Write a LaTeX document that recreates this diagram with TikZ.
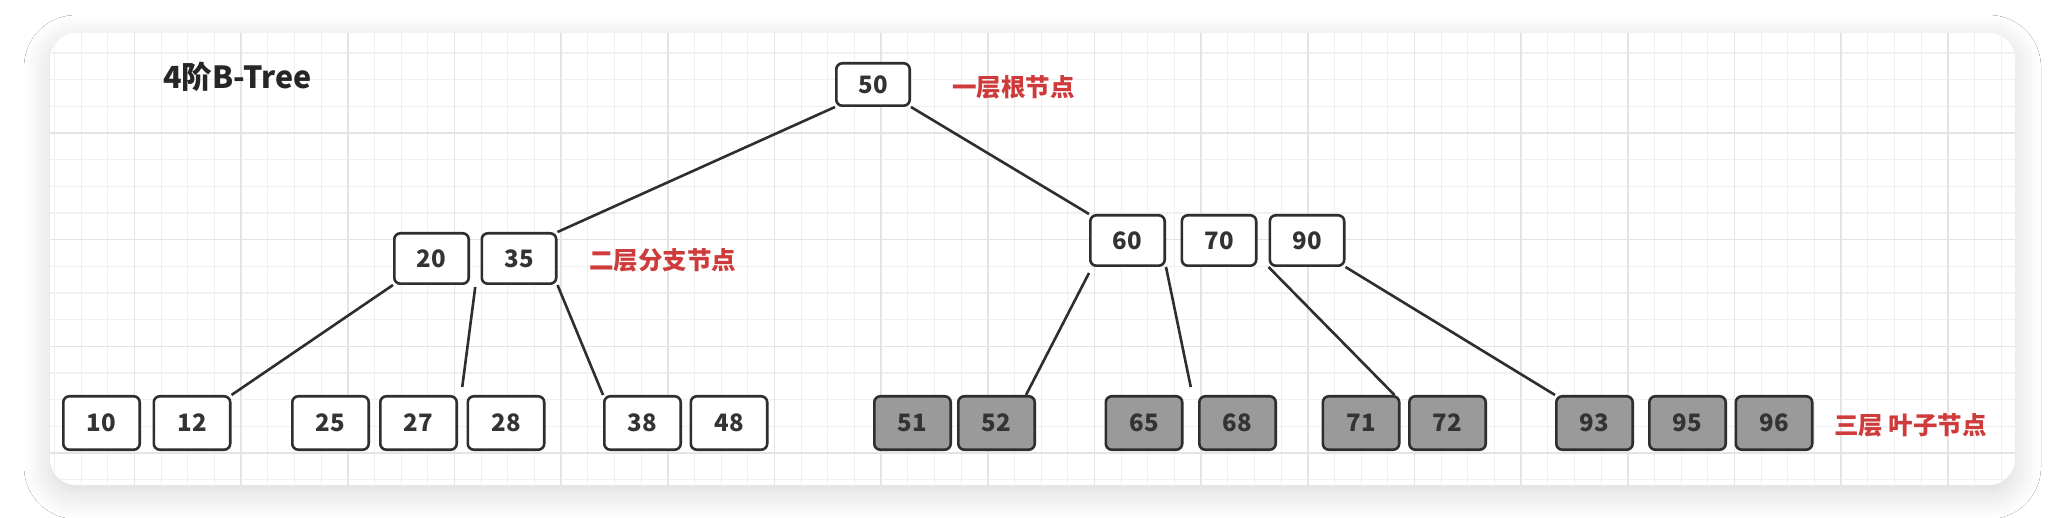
\documentclass[tikz,border=0pt]{standalone}
\usepackage{fontspec}
\setmainfont{Noto Sans CJK SC}
\usetikzlibrary{calc,shadows.blur}
\definecolor{labred}{HTML}{CF3B3B}
\definecolor{leafgray}{HTML}{9A9A9A}
\definecolor{edgec}{HTML}{2E2E2E}
\definecolor{numc}{HTML}{333333}
\definecolor{gridminor}{HTML}{F0F0F0}
\definecolor{gridmajor}{HTML}{E4E4E4}
\tikzset{
  keybox/.style={draw=edgec, line width=2.6pt, rounded corners=6pt, fill=white,
    minimum width=74.4pt, minimum height=50.4pt, inner sep=0pt,
    font=\bfseries\fontsize{24}{24}\selectfont, text=numc},
  rootbox/.style={keybox, minimum width=73.4pt, minimum height=42.4pt},
  leafbox/.style={keybox, minimum width=76.4pt, minimum height=53.4pt},
  graybox/.style={leafbox, fill=leafgray},
  link/.style={draw=edgec, line width=2.6pt},
  note/.style={anchor=west, text=labred, inner sep=0pt,
    font=\bfseries\fontsize{24.5}{24.5}\selectfont},
  gminor/.style={draw=gridminor, line width=1.2pt},
  gmajor/.style={draw=gridmajor, line width=1.4pt},
}
\begin{document}
\begin{tikzpicture}[x=1pt,y=-1pt]
\useasboundingbox (0,0) rectangle (2048,518);
\fill[white] (0,0) rectangle (2048,518);
% card
\fill[white, rounded corners=26pt,
  blur shadow={shadow xshift=0pt, shadow yshift=-8pt, shadow blur radius=26pt, shadow blur steps=16, shadow opacity=16}]
  (50,33) rectangle (2015,485);
\begin{scope}
  \clip[rounded corners=26pt] (50,33) rectangle (2015,485);
  \foreach \i in {0,...,73} {\draw[gminor] ({54.5+26.667*\i},33) -- ++(0,452);}
  \foreach \j in {0,...,16} {\draw[gminor] (50,{53+26.667*\j}) -- ++(1965,0);}
  \foreach \i in {0,...,17} {\draw[gmajor] ({134.5+106.667*\i},33) -- ++(0,452);}
  \foreach \j in {0,...,3} {\draw[gmajor] (50,{133+106.667*\j}) -- ++(1965,0);}
\end{scope}

% title
\node[anchor=west, inner sep=0pt, text=black!85, font=\bfseries\fontsize{30.5}{30.5}\selectfont] (title) at (163,77) {4阶B-Tree};

% root
\node[rootbox] (n50) at (873,84.5) {50};
\node[note] (l1) at (952,87) {一层根节点};

% level 2
\node[keybox] (n20) at (431.5,258.5) {20};
\node[keybox] (n35) at (519,258.5) {35};
\node[note] (l2) at (589,260) {二层分支节点};
\node[keybox] (n60) at (1127.5,240.5) {60};
\node[keybox] (n70) at (1219,240.5) {70};
\node[keybox] (n90) at (1307,240.5) {90};

% leaves
\node[leafbox] (n10) at (101.5,423) {10};
\node[leafbox] (n12) at (192,423) {12};
\node[leafbox] (n25) at (330.5,423) {25};
\node[leafbox] (n27) at (418.5,423) {27};
\node[leafbox] (n28) at (506,423) {28};
\node[leafbox] (n38) at (642.5,423) {38};
\node[leafbox] (n48) at (729,423) {48};
\node[graybox] (n51) at (912.5,423) {51};
\node[graybox] (n52) at (996.5,423) {52};
\node[graybox] (n65) at (1144,423) {65};
\node[graybox] (n68) at (1237.5,423) {68};
\node[graybox] (n71) at (1361,423) {71};
\node[graybox] (n72) at (1447.5,423) {72};
\node[graybox] (n93) at (1594.5,423) {93};
\node[graybox] (n95) at (1687.5,423) {95};
\node[graybox] (n96) at (1774,423) {96};
\node[note] (l3) at (1834,425) {三层 叶子节点};

% connectors
\coordinate (g1) at ($(n20.south east)!0.5!(n35.south west)+(0,2)$);
\coordinate (g2) at ($(n27.north east)!0.5!(n28.north west)+(0,-8)$);
\coordinate (g3) at ($(n60.south west)+(0,6)$);
\coordinate (g4) at ($(n52.north east)+(-10,0)$);
\coordinate (g5) at ($(n65.north east)!0.5!(n68.north west)+(0,-8)$);
\coordinate (g6) at ($(n71.north east)+(-6,0)$);

\draw[link] (n50.south west) -- (n35.north east);
\draw[link] (n50.south east) -- (n60.north west);
\draw[link] (n20.south west) -- (n12.north east);
\draw[link] (g1) -- (g2);
\draw[link] (n35.south east) -- (n38.north west);
\draw[link] (g3) -- (g4);
\draw[link] (n60.south east) -- (g5);
\draw[link] (n90.south west) -- (g6);
\draw[link] (n90.south east) -- (n93.north west);
\end{tikzpicture}
\end{document}
